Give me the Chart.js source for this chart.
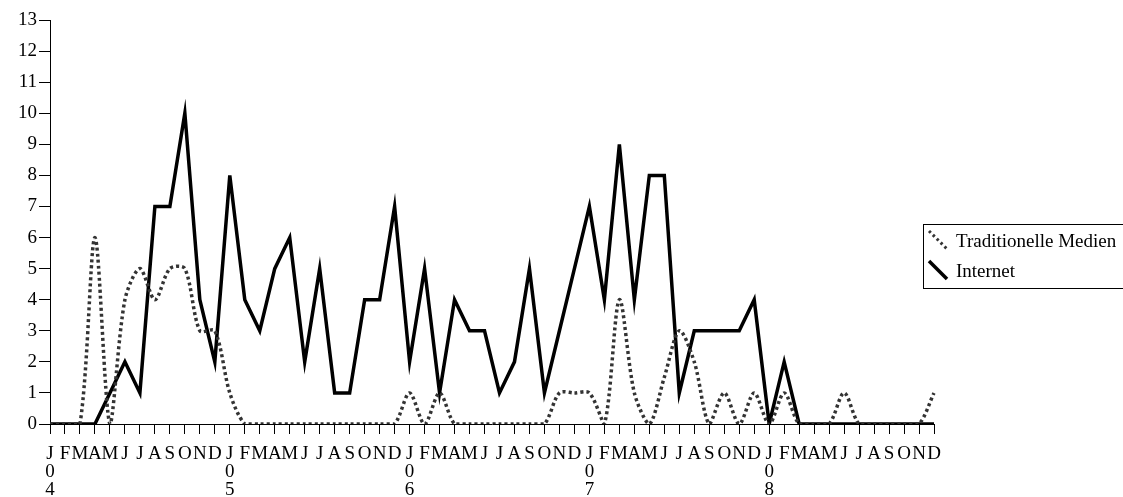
<!DOCTYPE html>
<html>
<head>
<meta charset="utf-8">
<script src="https://cdn.jsdelivr.net/npm/chart.js@4"></script>
<style>
  html, body { margin: 0; padding: 0; background: #fff; }
  #wrap { width: 1123px; height: 497px; position: relative; }
</style>
</head>
<body>
<div id="wrap"><canvas id="chart"></canvas></div>
<script>
const monthLetters = ['J', 'F', 'M', 'A', 'M', 'J', 'J', 'A', 'S', 'O', 'N', 'D'];
const years = ['04', '05', '06', '07', '08'];
const yTicks = [0, 1, 2, 3, 4, 5, 6, 7, 8, 9, 10, 11, 12, 13];
const seriesNames = ['Traditionelle Medien', 'Internet'];

const traditionelleMedien = [
    0, 0, 0, 6, 0, 4, 5, 4, 5, 5, 3, 3,
    1, 0, 0, 0, 0, 0, 0, 0, 0, 0, 0, 0,
    1, 0, 1, 0, 0, 0, 0, 0, 0, 0, 1, 1,
    1, 0, 4, 1, 0, 1.5, 3, 2, 0, 1, 0, 1,
    0, 1, 0, 0, 0, 1, 0, 0, 0, 0, 0, 1
];
const internet = [
    0, 0, 0, 0, 1, 2, 1, 7, 7, 10, 4, 2,
    8, 4, 3, 5, 6, 2, 5, 1, 1, 4, 4, 7,
    2, 5, 1, 4, 3, 3, 1, 2, 5, 1, 3, 5,
    7, 4, 9, 4, 8, 8, 1, 3, 3, 3, 3, 4,
    0, 2, 0, 0, 0, 0, 0, 0, 0, 0, 0, 0
];

// month labels, January gets the year digits stacked underneath
const labels = [];
years.forEach(y => {
    monthLetters.forEach((m, i) => {
        labels.push(i === 0 ? [m, y[0], y[1]] : m);
    });
});

const serif = '"Liberation Serif", "Times New Roman", serif';
const dotColor = '#333333';

// Excel-style legend box with diagonal line samples
const boxLegend = {
    id: 'boxLegend',
    afterDraw(chart) {
        const ctx = chart.ctx;
        ctx.save();
        ctx.strokeStyle = '#000';
        ctx.lineWidth = 1;
        ctx.strokeRect(923.5, 224.5, 210, 64);

        ctx.lineCap = 'butt';
        ctx.strokeStyle = dotColor;
        ctx.lineWidth = 3;
        ctx.setLineDash([2.5, 3]);
        ctx.beginPath();
        ctx.moveTo(929, 231);
        ctx.lineTo(947, 249);
        ctx.stroke();

        ctx.setLineDash([]);
        ctx.strokeStyle = '#000';
        ctx.lineWidth = 3.5;
        ctx.beginPath();
        ctx.moveTo(929, 261);
        ctx.lineTo(947, 279);
        ctx.stroke();

        ctx.fillStyle = '#000';
        ctx.font = '19px ' + serif;
        ctx.textBaseline = 'middle';
        ctx.fillText(seriesNames[0], 956, 242);
        ctx.fillText(seriesNames[1], 956, 272);
        ctx.restore();
    }
};

new Chart(document.getElementById('chart'), {
    type: 'line',
    data: {
        labels: labels,
        datasets: [
            {
                label: seriesNames[0],
                data: traditionelleMedien,
                borderColor: dotColor,
                borderWidth: 3.5,
                borderDash: [3, 3],
                borderCapStyle: 'butt',
                tension: 0.3,
                pointRadius: 0,
                fill: false
            },
            {
                label: seriesNames[1],
                data: internet,
                borderColor: '#000',
                borderWidth: 3.5,
                tension: 0,
                pointRadius: 0,
                fill: false
            }
        ]
    },
    options: {
        responsive: true,
        maintainAspectRatio: false,
        animation: false,
        layout: { padding: { top: 20, right: 189, left: 0, bottom: 0 } },
        plugins: {
            legend: { display: false },
            tooltip: { enabled: false }
        },
        scales: {
            x: {
                offset: false,
                afterFit(s) { s.height = 73; },
                grid: {
                    offset: false,
                    drawOnChartArea: false,
                    drawTicks: true,
                    tickLength: 10,
                    color: '#000',
                    lineWidth: 1
                },
                border: { display: true, color: '#000', width: 1 },
                ticks: {
                    autoSkip: false,
                    maxRotation: 0,
                    minRotation: 0,
                    padding: 11,
                    color: '#000',
                    font: { family: serif, size: 19, lineHeight: 0.95 }
                }
            },
            y: {
                min: yTicks[0],
                max: yTicks[yTicks.length - 1],
                afterFit(s) { s.width = 50; },
                afterBuildTicks(s) { s.ticks = yTicks.map(v => ({ value: v })); },
                grid: {
                    drawOnChartArea: false,
                    drawTicks: true,
                    tickLength: 11,
                    color: '#000',
                    lineWidth: 1
                },
                border: { display: true, color: '#000', width: 1 },
                ticks: {
                    padding: 2,
                    color: '#000',
                    font: { family: serif, size: 19 }
                }
            }
        }
    },
    plugins: [boxLegend]
});
</script>
</body>
</html>
